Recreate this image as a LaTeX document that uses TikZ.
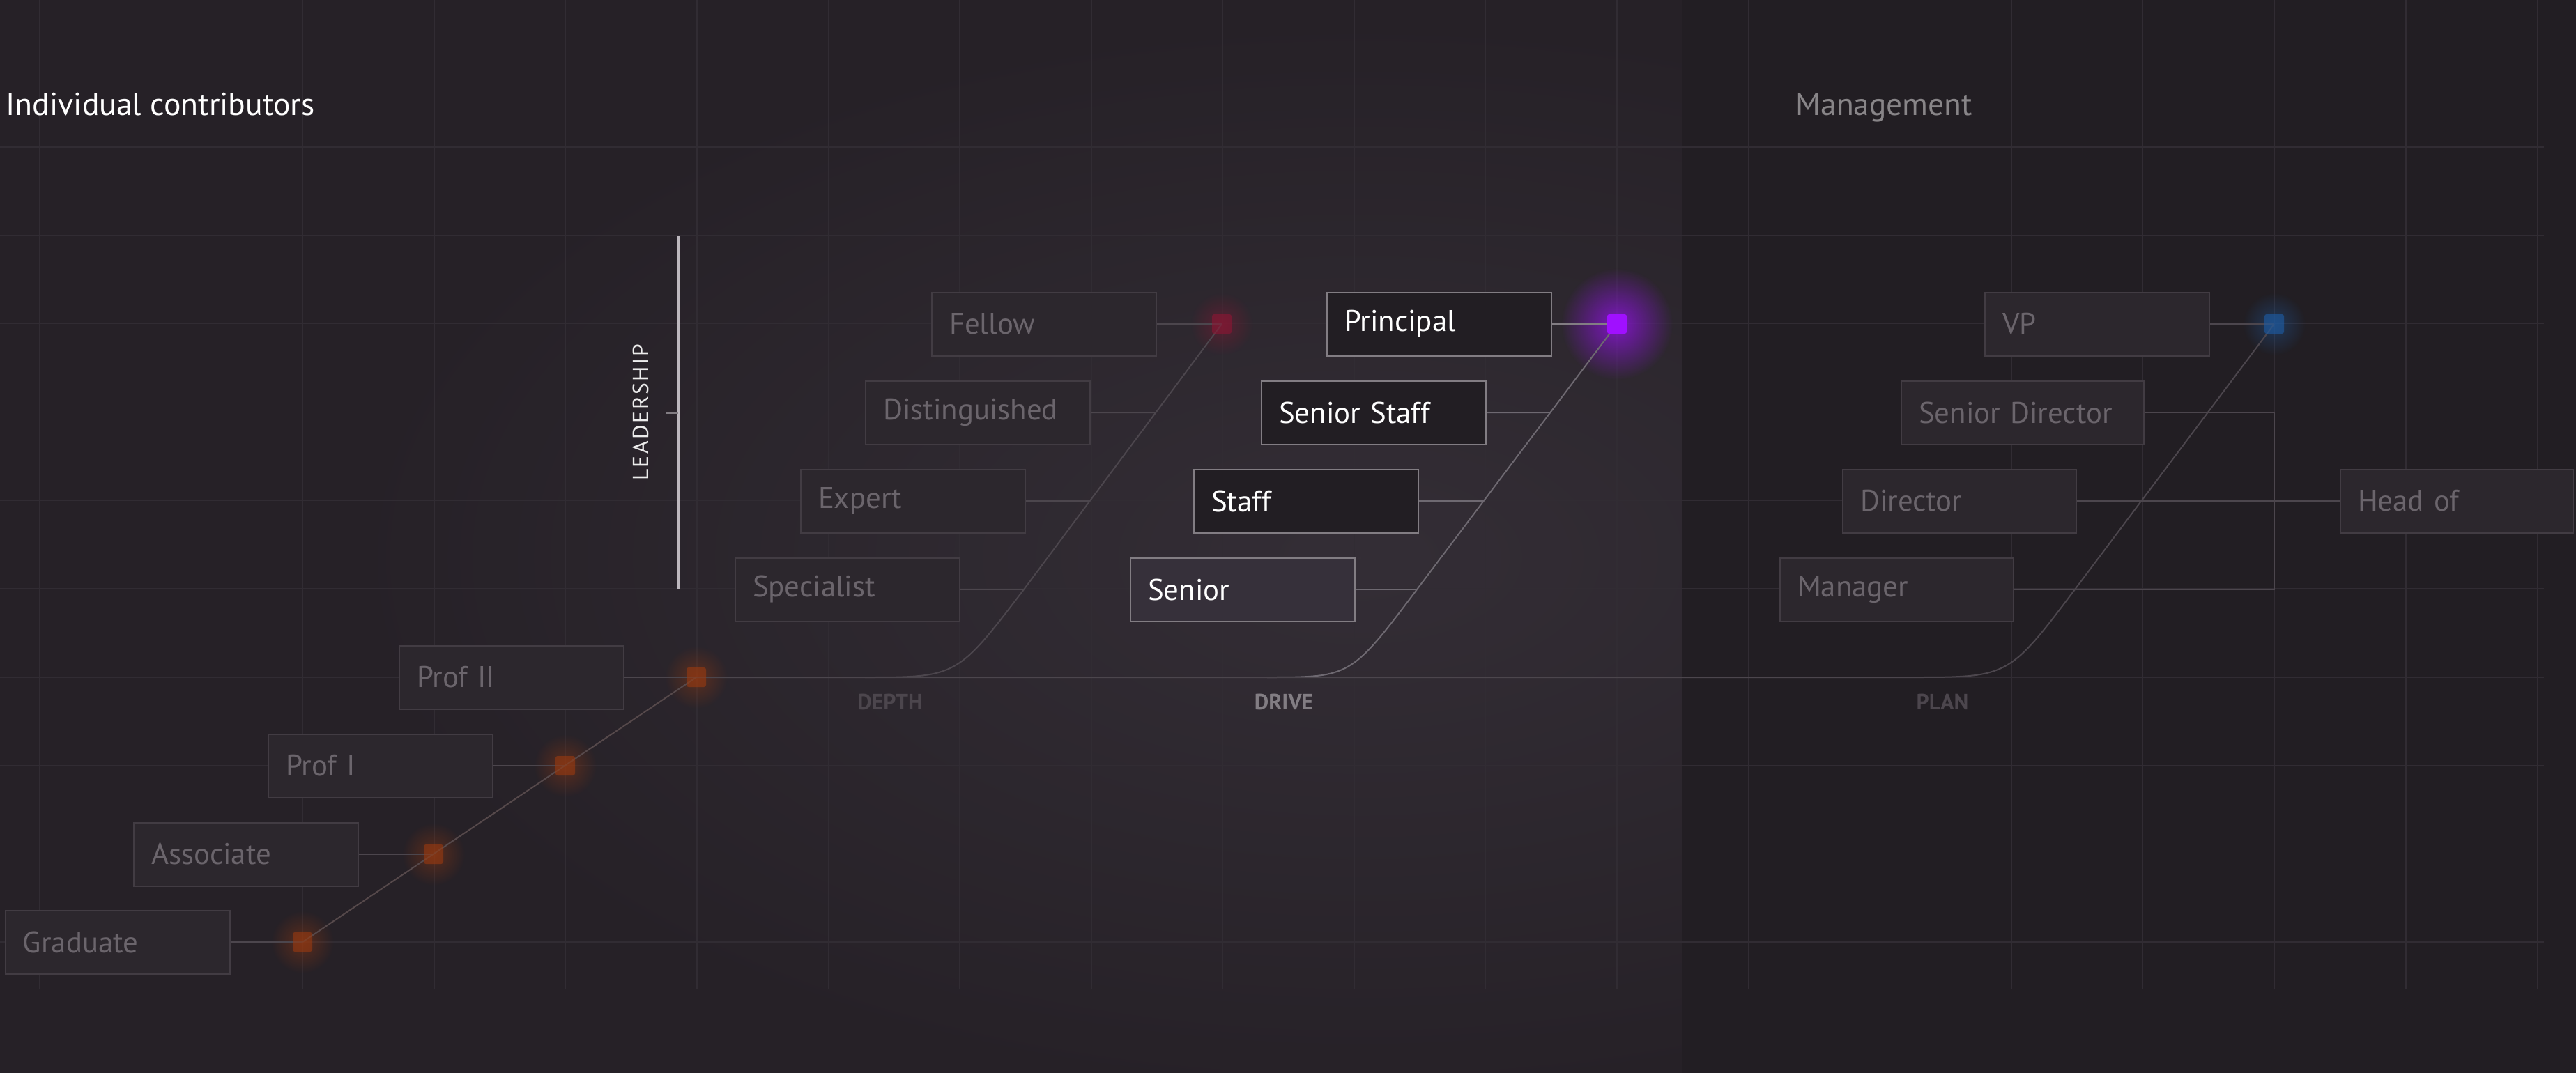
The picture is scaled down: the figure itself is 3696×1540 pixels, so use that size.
\documentclass[tikz,border=0pt]{standalone}
\usepackage{fontspec}
\setmainfont{PT Sans}
\usetikzlibrary{calc,fadings}

\definecolor{bgc}{HTML}{262127}
\definecolor{panelc}{HTML}{221E23}
\definecolor{glowc}{HTML}{342E36}
\definecolor{gridc}{HTML}{312C33}
\definecolor{dimline}{HTML}{423C43}
\definecolor{dimfill}{HTML}{2C272D}
\definecolor{dimtext}{HTML}{6B656C}
\definecolor{hiline}{HTML}{827D83}
\definecolor{hifill}{HTML}{221E23}
\definecolor{seniorc}{HTML}{36303A}
\definecolor{linkc}{HTML}{4C464D}
\definecolor{hotc}{HTML}{6E6971}
\definecolor{diagc}{HTML}{56494B}
\definecolor{orangec}{HTML}{9A3A10}
\definecolor{redc}{HTML}{8E1634}
\definecolor{purplec}{HTML}{A010FF}
\definecolor{bluec}{HTML}{1E5AA0}
\definecolor{leadc}{HTML}{BDB8BE}

\tikzfading[name=glowfade, inner color=transparent!0, outer color=transparent!100]

\begin{document}
\begin{tikzpicture}[x=0.1mm, y=-0.1mm,
    rank/.style={draw=dimline, line width=0.2mm, fill=dimfill, text=dimtext,
      anchor=west, minimum height=9.1mm, inner xsep=2.5mm, text width=27.2mm,
      align=left, font=\fontsize{12.2}{14}\selectfont},
    lit/.style={draw=hiline, fill=hifill, text=white},
    dot/.style={minimum size=2.8mm, inner sep=0pt, rounded corners=0.3mm},
    glow/.style={path fading=glowfade},
    link/.style={draw=linkc, line width=0.2mm},
    hot/.style={draw=hotc, line width=0.2mm},
    diag/.style={draw=diagc, line width=0.2mm},
    gridline/.style={draw=gridc, line width=0.15mm},
    track/.style={font=\fontsize{9}{10}\selectfont\bfseries}]

    \useasboundingbox (0,0) rectangle (3696,1540);

    % background
    \fill[bgc] (0,0) rectangle (3696,1540);
    \begin{scope}
        \clip (0,0) rectangle (2413,1540);
        \fill[glowc, glow] (1950,800) ellipse (1500 and 800);
    \end{scope}
    \fill[panelc] (2413,0) rectangle (3696,1540);

    % grid
    \foreach \i in {0,...,19}
        \draw[gridline] ({57+188.6*\i},0) -- ({57+188.6*\i},1420);
    \foreach \j in {0,...,9}
        \draw[gridline] (0,{211+126.8*\j}) -- (3650,{211+126.8*\j});

    % marker glows
    \foreach \n/\x/\y/\c/\r/\o in {gradm/434/1352/orangec/45/0.45, assocm/622/1226/orangec/45/0.45,
        prof1m/811/1099/orangec/45/0.45, prof2m/999/972/orangec/45/0.45, depthm/1753/465/redc/45/0.45,
        drivem/2320/465/purplec/80/0.7, planm/3263/465/bluec/45/0.45}{
        \coordinate (\n) at (\x,\y);
        \fill[\c, glow, fill opacity=\o] (\n) circle (\r);
    }

    % individual contributors
    \node[rank] (grad) at (7,1352) {Graduate};
    \node[rank] (assoc) at (191,1226) {Associate};
    \node[rank] (prof1) at (384,1099) {Prof I};
    \node[rank] (prof2) at (572,972) {Prof II};
    \node[rank] (spec) at (1054,846) {Specialist};
    \node[rank] (expert) at (1148,719) {Expert};
    \node[rank] (disting) at (1241,592) {Distinguished};
    \node[rank] (fellow) at (1336,465) {Fellow};
    \node[rank, lit, fill=seniorc] (senior) at (1621,846) {Senior};
    \node[rank, lit] (staff) at (1712,719) {Staff};
    \node[rank, lit] (sstaff) at (1809,592) {Senior Staff};
    \node[rank, lit] (principal) at (1903,465) {Principal};

    % management
    \node[rank, text width=28.5mm] (manager) at (2553,846) {Manager};
    \node[rank, text width=28.5mm] (director) at (2643,719) {Director};
    \node[rank, text width=29.8mm] (sdir) at (2727,592) {Senior Director};
    \node[rank] (vp) at (2847,465) {VP};
    \node[rank, text width=28.4mm] (headof) at (3357,719) {Head of};

    % tracks
    \foreach \k/\s/\c/\e in {depth/1241/1373/1469, drive/1818/1938/2033, plan/2744/2882/2977}{
        \coordinate (\k0) at (\s,972);
        \coordinate (\k c) at (\c,972);
        \coordinate (\k3) at (\e,846);
        \coordinate (\k1) at ($(\k m)!1/3!(\k3)$);
        \coordinate (\k2) at ($(\k m)!2/3!(\k3)$);
    }
    \draw[link] (depth0) .. controls (depthc) .. (depth3) -- (depthm);
    \draw[hot] (drive0) .. controls (drivec) .. (drive3) -- (drivem);
    \draw[link] (prof2m) -- (plan0) .. controls (planc) .. (plan3) -- (planm);

    \foreach \a/\b in {grad/gradm, assoc/assocm, prof1/prof1m, prof2/prof2m,
        spec/depth3, expert/depth2, disting/depth1, fellow/depthm, vp/planm, director/headof}
        \draw[link] (\a) -- (\b);
    \foreach \a/\b in {senior/drive3, staff/drive2, sstaff/drive1}
        \draw[hot] (\a) -- (\b);
    \draw[hot, draw=hiline] (principal) -- (drivem);
    \draw[link] (sdir.east) -- (sdir.east -| planm) -- (manager.east -| planm) -- (manager.east);
    \draw[diag] (gradm) -- (prof2m);

    % markers
    \foreach \n/\c/\o in {gradm/orangec/0.6, assocm/orangec/0.6, prof1m/orangec/0.6,
        prof2m/orangec/0.6, depthm/redc/0.6, drivem/purplec/1, planm/bluec/0.65}
        \node[dot, fill=\c, fill opacity=\o] (\n sq) at (\n) {};

    \node[track, text=linkc] (depthlbl) at (1277,1007) {DEPTH};
    \node[track, text=hiline] (drivelbl) at (1842,1007) {DRIVE};
    \node[track, text=linkc] (planlbl) at (2787,1007) {PLAN};

    % leadership
    \coordinate (leadtop) at (973,339);
    \coordinate (leadbot) at (973,846);
    \draw[leadc, line width=0.3mm] (leadtop) -- (leadbot);
    \draw[hiline, line width=0.25mm] ($(leadtop)!0.5!(leadbot)$) -- ++(-18,0);
    \node[rotate=90, text=white!85!gray, font=\fontsize{9}{10}\selectfont\addfontfeatures{LetterSpace=8}]
        (leadlbl) at (919,592) {LEADERSHIP};

    % headings
    \node[anchor=base west, inner sep=0pt, text=white, font=\fontsize{13}{15}\selectfont]
        (ictitle) at (8,165) {Individual contributors};
    \node[anchor=base west, inner sep=0pt, text=white!45!bgc, font=\fontsize{12.9}{15}\selectfont]
        (mgmttitle) at (2576,165) {Management};
\end{tikzpicture}
\end{document}
